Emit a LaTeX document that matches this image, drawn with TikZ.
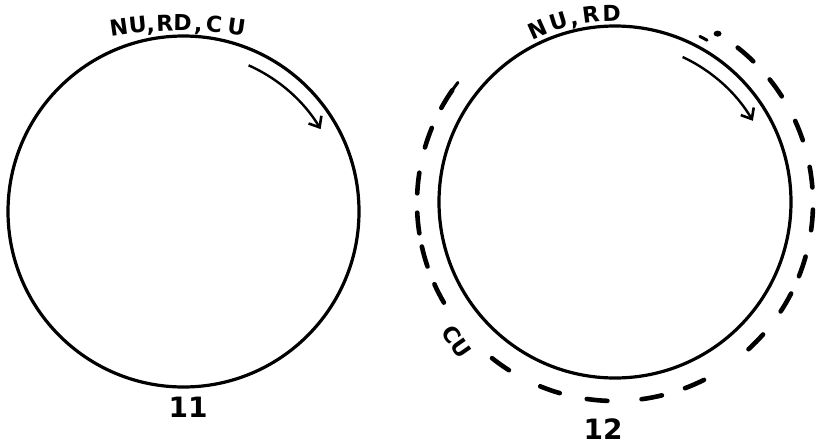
\documentclass[tikz,border=0pt]{standalone}
\usepackage{fontspec}
\setmainfont{DejaVu Sans}
\usetikzlibrary{arrows.meta}
\begin{document}
\begin{tikzpicture}[x=1pt,y=1pt,
  ring/.style={circle, draw, line width=3.2pt, inner sep=0pt, outer sep=0pt},
  dsh/.style={line width=4.6pt, line cap=round},
  turn/.style={line width=2.4pt, -{Straight Barb[length=9pt,width=15pt,line width=2.6pt]}},
  lbl/.style={font=\fontsize{22}{22}\selectfont\bfseries, inner sep=0pt, anchor=base},
  num/.style={font=\fontsize{28}{28}\selectfont\bfseries, inner sep=0pt}]
\useasboundingbox (0,0) rectangle (820,-445);
% circle 11
\node[ring, minimum size=351pt] (c11) at (183.5,-211.5) {};
\draw[turn] ([shift={(66:160)}]c11.center) arc[start angle=66, end angle=31, radius=160];
\node[lbl, rotate=8.2]  (l1) at (120,-35) {N};
\node[lbl, rotate=5.7]  (l2) at (138.5,-33) {U};
\node[lbl, rotate=4.0]  (l3) at (151,-32) {,};
\node[lbl, rotate=1.9]  (l4) at (165,-31) {R};
\node[lbl, rotate=-0.6] (l5) at (182.5,-31) {D};
\node[lbl, rotate=-2.9] (l6) at (198,-31.5) {,};
\node[lbl, rotate=-5.0] (l7) at (213.5,-32.5) {C};
\node[lbl, rotate=-8.2] (l8) at (235.5,-35) {U};
\node[num] (n11) at (188,-407) {11};
% circle 12
\node[ring, minimum size=352pt] (c12) at (615,-202) {};
\coordinate (d12) at (615,-203);
\draw[turn] ([shift={(65:160)}]c12.center) arc[start angle=65, end angle=30.5, radius=160];
\foreach \t/\ang in {N/114.0, U/107.2, {,}/102.6, R/97.4, D/91.0}
  \node[lbl, rotate=\ang-90] at ([shift={(\ang:181)}]c12.center) {\t};
\foreach \a in {48.7,35.6,21.5,7.5,-4.9,-18.7,-30.2,-44.6,-66.3,-79.3,-95.2,-109.2,-125.4,-152.8,-164.3,-174.2,174.2,160.7,148.3}
  \draw[dsh] ([shift={(\a+3:198)}]d12) arc[start angle=\a+3, end angle=\a-3, radius=198];
\draw[dsh, line width=3pt] ([shift={(145:198)}]d12) arc[start angle=145, end angle=142.5, radius=198];
\draw[dsh, line width=3pt] ([shift={(63:187)}]d12) arc[start angle=63, end angle=60.5, radius=187];
\fill ([shift={(58.8:198)}]d12) ellipse[x radius=4pt, y radius=3pt];
\node[lbl, anchor=center, rotate=-55] (cu) at (457,-342) {CU};
\node[num] (n12) at (603,-429) {12};
\end{tikzpicture}
\end{document}
